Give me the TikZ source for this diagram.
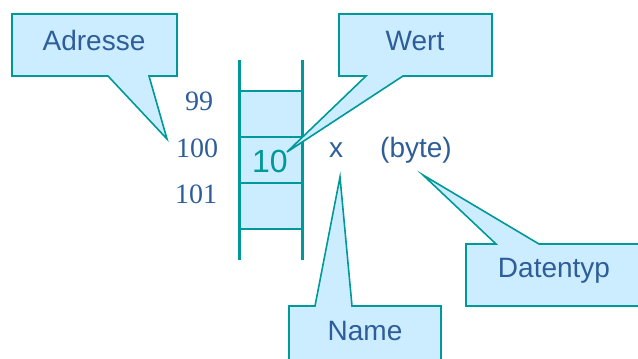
\documentclass[tikz,border=0pt]{standalone}
\usepackage{fontspec}
\setmainfont{Liberation Sans}
\newfontfamily\numfont{Liberation Serif}
\definecolor{calloutfill}{RGB}{204,236,255}
\definecolor{tealline}{RGB}{0,153,153}
\definecolor{labelblue}{RGB}{46,94,153}
\tikzset{
  callout/.style={fill=calloutfill, draw=tealline, line width=1.6pt, line join=miter},
  calltext/.style={text=labelblue, font=\fontsize{28}{30}\selectfont, inner sep=0pt, anchor=center},
  addrtext/.style={text=labelblue, font=\numfont\fontsize{28}{30}\selectfont, inner sep=0pt, anchor=center},
  cellwall/.style={draw=tealline, line width=3pt},
  cellline/.style={draw=tealline, line width=2.5pt},
}
\begin{document}
\begin{tikzpicture}[x=1pt, y=-1pt]
\useasboundingbox (0,0) rectangle (638,359);

% memory cells
\fill[calloutfill] (239.5,91) rectangle (302,229);
\draw[cellline] (239.5,91) -- (302,91);
\draw[cellline] (239.5,137) -- (302,137);
\draw[cellline] (239.5,183) -- (302,183);
\draw[cellline] (239.5,229) -- (302,229);
\draw[cellwall] (239.5,60) -- (239.5,260);
\draw[cellwall] (302,60) -- (302,260);

% addresses, value, name and type
\node[addrtext] (a99) at (199,101) {99};
\node[addrtext] (a100) at (197,148) {100};
\node[addrtext] (a101) at (196,194) {101};
\node[calltext, text=tealline, font=\fontsize{32}{34}\selectfont] (val) at (270,161) {10};
\node[calltext] (name) at (336,150) {x};
\node[calltext] (type) at (416,150) {(byte)};

% pointer tips
\coordinate (tipA) at (167,139);
\coordinate (tipW) at (287,152);
\coordinate (tipN) at (340,177);
\coordinate (tipD) at (423,175);

% callouts
\draw[callout] (12,14) -- (177,14) -- (177,76) -- (149,76) -- (tipA) -- (108,76) -- (12,76) -- cycle;
\node[calltext] (adresse) at (94,40) {Adresse};

\draw[callout] (339,14) -- (492,14) -- (492,76) -- (403,76) -- (tipW) -- (366,76) -- (339,76) -- cycle;
\node[calltext] (wert) at (415,41) {Wert};

\draw[callout] (289,306) -- (315,306) -- (tipN) -- (352,306) -- (441,306) -- (441,370) -- (289,370) -- cycle;
\node[calltext] (namelbl) at (365,331) {Name};

\draw[callout] (466,244) -- (496,244) -- (tipD) -- (539,244) -- (650,244) -- (650,306) -- (466,306) -- cycle;
\node[calltext] (datentyp) at (554,271) {Datentyp};
\end{tikzpicture}
\end{document}
